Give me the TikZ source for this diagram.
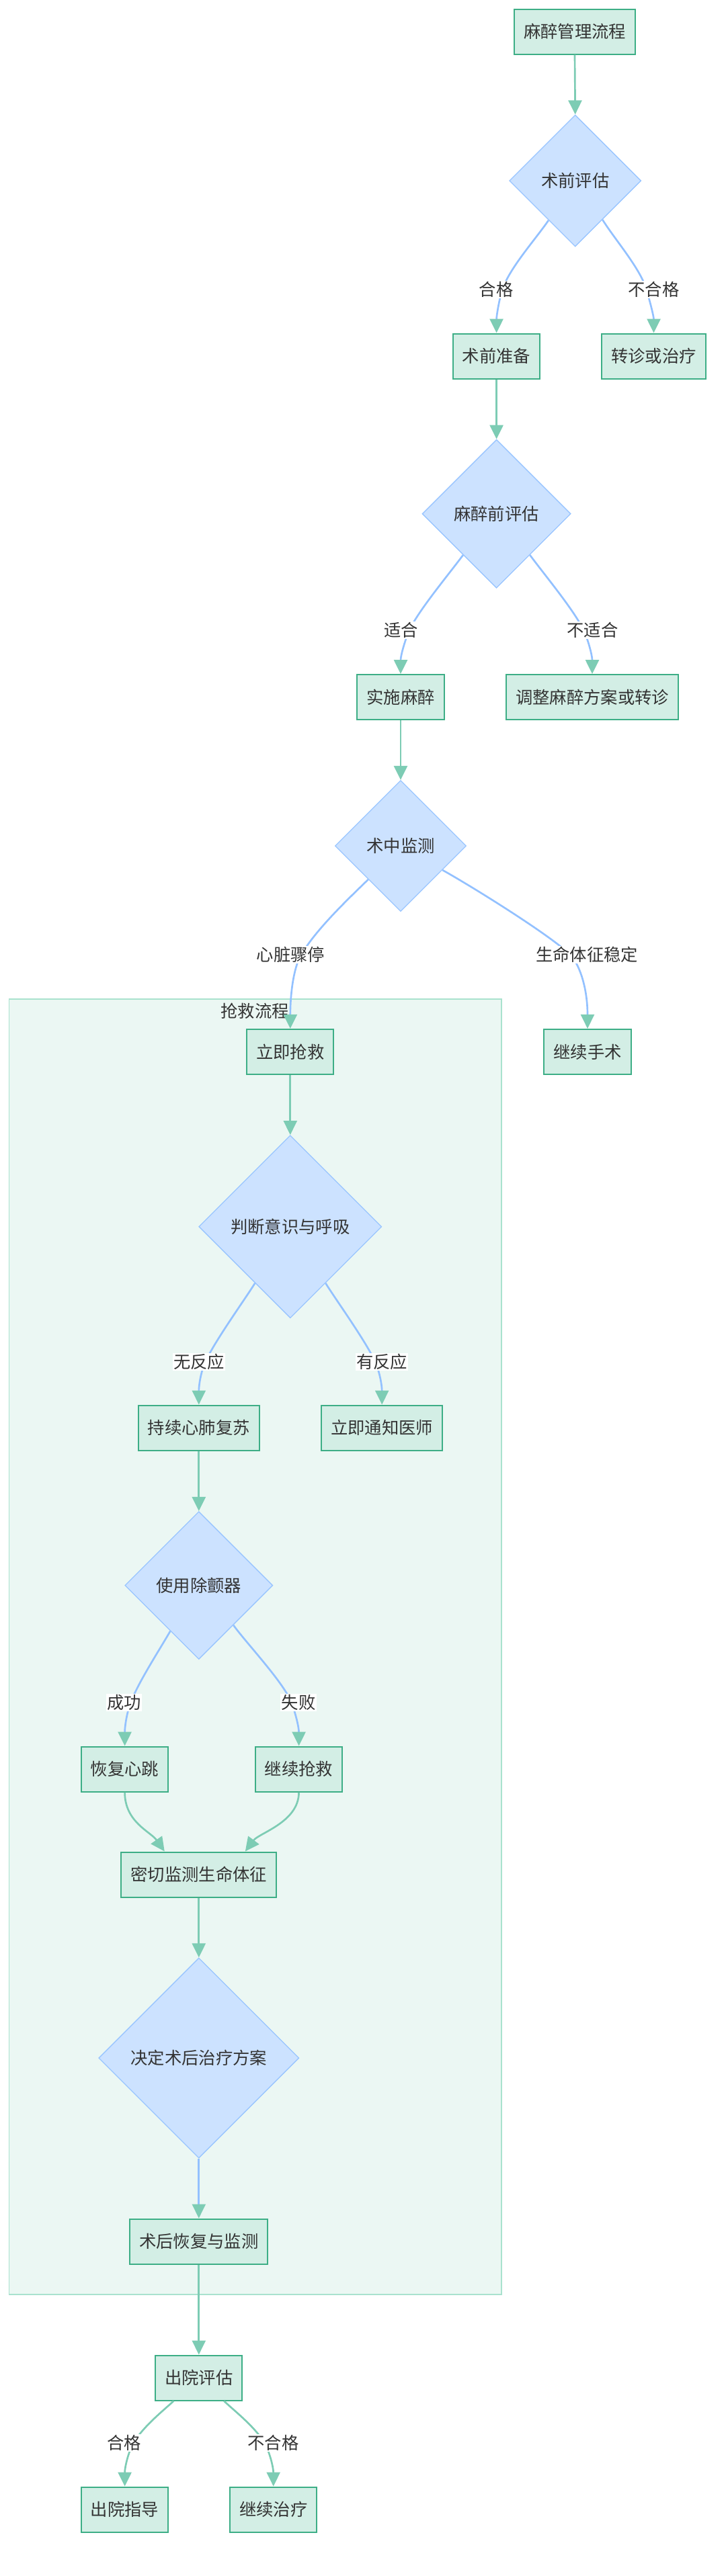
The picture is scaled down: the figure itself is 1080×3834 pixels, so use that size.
\documentclass[tikz,border=0pt]{standalone}
\usepackage{fontspec}
\setmainfont{Noto Sans CJK SC}
\usetikzlibrary{shapes.geometric,arrows.meta,calc}
\definecolor{boxfill}{HTML}{D3EEE5}
\definecolor{boxdraw}{HTML}{3DAE86}
\definecolor{decfill}{HTML}{CCE2FF}
\definecolor{decdraw}{HTML}{99C5FF}
\definecolor{egreen}{HTML}{7DCCB4}
\definecolor{eblue}{HTML}{93C1FF}
\definecolor{clfill}{HTML}{EBF7F3}
\definecolor{cldraw}{HTML}{A9E2CE}
\definecolor{txt}{HTML}{333333}
\begin{document}
\begin{tikzpicture}[x=0.75pt,y=-0.75pt,
 every node/.style={font=\fontsize{19pt}{23pt}\selectfont, text=txt},
 proc/.style={draw=boxdraw, fill=boxfill, line width=1.5pt, minimum height=50.25pt, inner xsep=10.5pt, inner ysep=0pt},
 dec/.style={shape=diamond, aspect=1, draw=decdraw, fill=decfill, line width=1pt, inner sep=0pt},
 tipg/.style={-{Triangle[length=15.75pt,width=15pt,color=egreen]}},
 ge/.style={draw=egreen, line width=2pt, tipg},
 be/.style={draw=eblue, line width=2pt, tipg},
 lbl/.style={fill=white, inner sep=1pt},
 cluster/.style={draw=cldraw, fill=clfill, line width=1pt}
]
\useasboundingbox (0,0) rectangle (1080,3834);
\fill[white] (0,0) rectangle (1080,3834);

% cluster
\path[cluster] (13.8,1487) rectangle (746,3415);
\node (clt) at (379,1505) {抢救流程};

% nodes
\node[proc] (start) at (855,47) {麻醉管理流程};
\node[dec, minimum size=147pt] (d1) at (855.7,269) {术前评估};
\node[proc] (prep) at (738.6,530) {术前准备};
\node[proc] (ref1) at (972.5,530) {转诊或治疗};
\node[dec, minimum size=165.75pt] (d2) at (738.6,764.7) {麻醉前评估};
\node[proc] (anes) at (596,1037.5) {实施麻醉};
\node[proc] (adj) at (881,1037.5) {调整麻醉方案或转诊};
\node[dec, minimum size=146.25pt] (d3) at (596,1259) {术中监测};
\node[proc] (resc) at (431.8,1565.4) {立即抢救};
\node[proc] (cont) at (874,1565.4) {继续手术};
\node[dec, minimum size=204pt] (d4) at (431.8,1825.7) {判断意识与呼吸};
\node[proc] (cpr) at (295.8,2125) {持续心肺复苏};
\node[proc] (doc) at (568.2,2125) {立即通知医师};
\node[dec, minimum size=165pt] (d5) at (295.8,2359.6) {使用除颤器};
\node[proc] (beat) at (185.6,2633) {恢复心跳};
\node[proc] (more) at (444.6,2633) {继续抢救};
\node[proc] (vit) at (295.8,2790) {密切监测生命体征};
\node[dec, minimum size=223.5pt] (d6) at (295.8,3063) {决定术后治疗方案};
\node[proc] (post) at (295.8,3336) {术后恢复与监测};
\node[proc] (dis) at (295.8,3539) {出院评估};
\node[proc] (guide) at (185.6,3735) {出院指导};
\node[proc] (treat) at (406.7,3735) {继续治疗};

% pass-through coordinates of labelled edges
\coordinate (p1) at (747,432);
\coordinate (p2) at (962,432);
\coordinate (p3) at (608,940);
\coordinate (p4) at (869,940);
\coordinate (p5) at (447,1423);
\coordinate (p6) at (850,1423);
\coordinate (p7) at (305,2028);
\coordinate (p8) at (558.6,2028);
\coordinate (p9) at (194,2535);
\coordinate (p10) at (434,2535);
\coordinate (p11) at (198,3637);
\coordinate (p12) at (394,3637);

% edges
\draw[ge] (start.south) -- (d1.north);
\draw[be] (d1.-124) .. controls (796,357) and (757,400) .. (p1) .. controls (742.5,446) and (738.6,470) .. (prep.north);
\draw[be] (d1.-55) .. controls (915,357) and (953,400) .. (p2) .. controls (966,446) and (972.5,470) .. (ref1.north);
\draw[ge] (prep.south) -- (d2.north);
\draw[be] (d2.-129) .. controls (665,858) and (620,912) .. (p3) .. controls (603,952) and (596,975) .. (anes.north);
\draw[be] (d2.-51) .. controls (812,858) and (857,912) .. (p4) .. controls (874.6,952) and (881,975) .. (adj.north);
\draw[ge] (anes.south) -- (d3.north);
\draw[be] (d3.-134) .. controls (520,1336) and (468,1385) .. (p5) .. controls (436.5,1442) and (431.8,1480) .. (resc.north);
\draw[be] (d3.-30) .. controls (705,1321) and (828,1398) .. (p6) .. controls (863,1438) and (874,1472) .. (cont.north);
\draw[ge] (resc.south) -- (d4.north);
\draw[be] (d4.-122) .. controls (365,1933) and (318,1998) .. (p7) .. controls (298.5,2043) and (295.8,2062) .. (cpr.north);
\draw[be] (d4.-58) .. controls (498.6,1933) and (545.6,1998) .. (p8) .. controls (565,2043) and (568.2,2062) .. (doc.north);
\draw[ge] (cpr.south) -- (d5.north);
\draw[be] (d5.-122) .. controls (237,2456) and (205,2505) .. (p9) .. controls (188.5,2550) and (185.6,2570) .. (beat.north);
\draw[be] (d5.-49) .. controls (366,2445) and (423,2505) .. (p10) .. controls (439.5,2550) and (444.6,2570) .. (more.north);
\draw[ge] (beat.south) .. controls (185.6,2712) and (224,2726) .. ($(vit.north)+(-51,0)$);
\draw[ge] (more.south) .. controls (444.6,2712) and (385.4,2728) .. ($(vit.north)+(69,0)$);
\draw[ge] (vit.south) -- (d6.north);
\draw[be] (d6.south) -- (post.north);
\draw[ge] (post.south) -- (dis.north);
\draw[ge] ($(dis.south)+(-37.5,0)$) .. controls (245,3586) and (212,3612) .. (p11) .. controls (191,3649.5) and (185.6,3672) .. (guide.north);
\draw[ge] ($(dis.south)+(37.5,0)$) .. controls (346,3586) and (380,3612) .. (p12) .. controls (401,3649.5) and (406.7,3672) .. (treat.north);

% edge labels
\node[lbl] (l1) at (738,431) {合格};
\node[lbl] (l2) at (972.5,431) {不合格};
\node[lbl] (l3) at (596.4,938) {适合};
\node[lbl] (l4) at (881.5,938) {不适合};
\node[lbl] (l5) at (432.5,1421) {心脏骤停};
\node[lbl] (l6) at (873,1421) {生命体征稳定};
\node[lbl] (l7) at (296,2027) {无反应};
\node[lbl] (l8) at (568,2027) {有反应};
\node[lbl] (l9) at (184.6,2534) {成功};
\node[lbl] (l10) at (444,2534) {失败};
\node[lbl] (l11) at (184.6,3636) {合格};
\node[lbl] (l12) at (406.4,3636) {不合格};
\end{tikzpicture}
\end{document}
